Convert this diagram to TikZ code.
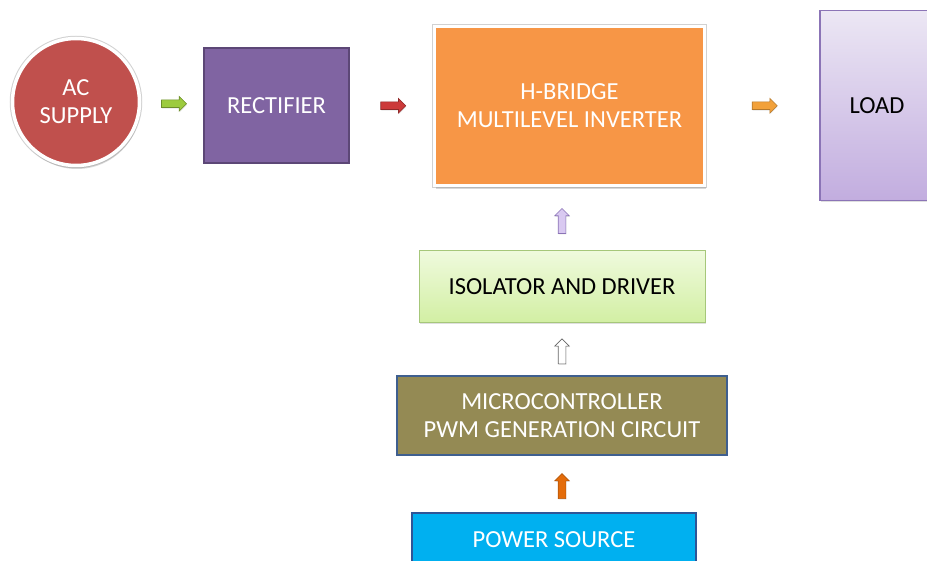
\documentclass[tikz,border=0pt]{standalone}
\usepackage{fontspec}
\setmainfont{Carlito}
\usetikzlibrary{calc,shapes.arrows,shadows}

\definecolor{acred}{HTML}{C0504D}
\definecolor{rectpurple}{HTML}{8064A2}
\definecolor{rectedge}{HTML}{5C4776}
\definecolor{hborange}{HTML}{F79646}
\definecolor{loadtop}{HTML}{ECE7F4}
\definecolor{loadbot}{HTML}{C2ADDF}
\definecolor{loadedge}{HTML}{8B74B6}
\definecolor{isotop}{HTML}{EFFADD}
\definecolor{isobot}{HTML}{D2EFA3}
\definecolor{isoedge}{HTML}{A6C77A}
\definecolor{microolive}{HTML}{948A54}
\definecolor{microedge}{HTML}{3F5F8F}
\definecolor{powerblue}{HTML}{00B0F0}
\definecolor{poweredge}{HTML}{2E5597}
\definecolor{arrgreen}{HTML}{9CCB3E}
\definecolor{arrred}{HTML}{CC3A3A}
\definecolor{arrorange}{HTML}{F2A13A}
\definecolor{arrlav}{HTML}{D9C9F1}
\definecolor{arrdeep}{HTML}{E46C0A}

\tikzset{
  block/.style={draw, line width=2pt, inner sep=0pt, align=center,
    text=white, font=\fontsize{24.5}{28}\selectfont},
  whiteedge/.style={draw=white, line width=3.5pt,
    preaction={draw=black!18, line width=5.5pt},
    drop shadow={opacity=0.3, shadow xshift=1pt, shadow yshift=-3.5pt}},
  softshadow/.style={drop shadow={opacity=0.25, shadow xshift=1pt, shadow yshift=-1.5pt}},
  fatarrow/.style={single arrow, draw, line width=0.6pt, inner sep=3.5pt,
    minimum width=14pt, minimum height=25pt, single arrow head extend=3.5pt,
    drop shadow={opacity=0.2, shadow xshift=0.5pt, shadow yshift=-1pt}}
}

\begin{document}
\begin{tikzpicture}[x=1pt, y=-1pt]

\useasboundingbox (0,0) rectangle (927,561);
\clip (0,0) rectangle (927,561);

%top row
\node[block, circle, whiteedge, fill=acred, minimum size=127pt] (ac) at (76,102) {AC\\SUPPLY};

\node[block, fill=rectpurple, draw=rectedge, minimum width=145pt, minimum height=115pt] (rect) at (276.5,105.5) {RECTIFIER};

\node[block, whiteedge, fill=hborange, minimum width=270pt, minimum height=159pt] (hb) at (569.5,106) {H-BRIDGE\\MULTILEVEL INVERTER};

\node[block, line width=1.2pt, draw=loadedge, top color=loadtop, bottom color=loadbot, text=black,
  minimum width=114pt, minimum height=190pt, softshadow] (load) at (877,105.5) {LOAD};

%control column
\node[block, line width=1pt, draw=isoedge, top color=isotop, bottom color=isobot, text=black,
  minimum width=286pt, minimum height=72pt, softshadow] (iso) at (562,287) {ISOLATOR AND DRIVER};

\node[block, fill=microolive, draw=microedge, minimum width=330pt, minimum height=79pt] (micro) at (562,415.5) {MICROCONTROLLER\\PWM GENERATION CIRCUIT};

\node[block, fill=powerblue, draw=poweredge, minimum width=284pt, minimum height=54pt] (power) at (554,540) {POWER SOURCE};

%arrows
\node[fatarrow, draw=arrgreen!70!black, fill=arrgreen] (a1) at ($(ac.east)!0.5!(rect.west)$) {};
\node[fatarrow, draw=arrred!70!black, fill=arrred] (a2) at ($(rect.east)!0.5!(hb.west)$) {};
\node[fatarrow, draw=arrorange!75!black, fill=arrorange] (a3) at ($(hb.east)!0.5!(load.west)$) {};

\node[fatarrow, rotate=90, draw=loadedge, fill=arrlav, xshift=-4pt] (a4) at ($(iso.north)!0.5!(hb.south -| iso.north)$) {};
\node[fatarrow, rotate=90, draw=black!60, fill=white, xshift=-4pt] (a5) at ($(micro.north)!0.5!(iso.south)$) {};
\node[fatarrow, rotate=90, draw=arrdeep!80!black, fill=arrdeep, xshift=-4pt] (a6) at ($(power.north -| micro.north)!0.5!(micro.south)$) {};

\end{tikzpicture}
\end{document}
